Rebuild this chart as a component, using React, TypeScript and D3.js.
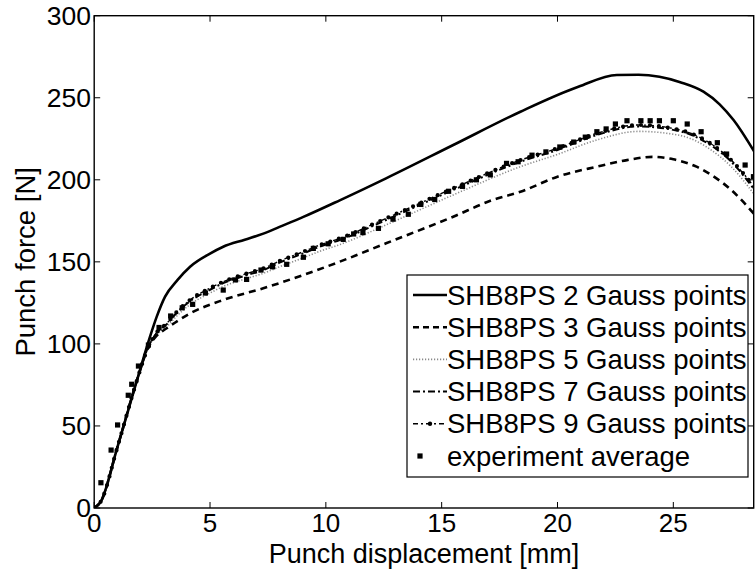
import React from "react";
import * as d3 from "d3";

type P = [number, number];

const xTicks = [0, 5, 10, 15, 20, 25];
const yTicks = [0, 50, 100, 150, 200, 250, 300];

const gp2X = [0, 0.28, 1.0, 1.85, 2.4, 2.7, 3.06, 3.6, 4.14, 5.0, 5.57, 6.5, 7.3, 8.0, 9.03, 10.6, 12.6, 15.5, 18.4, 20.9, 22.56, 23.5, 24.4, 25.3, 26.3, 27.0, 27.6, 28.5];
const gp2Y = [0, 3.8, 37, 78, 104, 116.6, 128.8, 139, 147, 155, 159.2, 163.5, 167.2, 171.3, 177.4, 187.5, 200.9, 221.2, 241.5, 256.7, 263.9, 264, 262.8, 259.5, 253.7, 246, 236.4, 217];

const gp3X = [0, 0.28, 1, 1.85, 2.34, 2.7, 3.13, 4.14, 5.57, 7.3, 9.03, 10.6, 12.6, 15.5, 17.2, 18.4, 20, 21.7, 23.0, 24.1, 25.0, 26.0, 26.8, 27.5, 28.5];
const gp3Y = [0, 3.8, 37, 78, 98, 105, 109.5, 118.6, 126.8, 133.9, 142, 150.1, 161.3, 177.5, 187.7, 192.7, 201.9, 208, 212, 214, 212.5, 208, 201.5, 193.8, 179];

const gp9X = [0, 0.28, 1.0, 1.85, 2.34, 2.7, 3.13, 3.6, 4.14, 5.0, 5.57, 6.5, 7.3, 8.0, 9.03, 9.75, 10.6, 12.6, 15.5, 18.4, 20, 21.7, 23.5, 25.3, 26.6, 27.5, 28.5];
const gp9Y = [0, 3.8, 37, 78, 98.3, 107, 112.5, 120, 126.8, 134, 137.9, 142.5, 146, 150.5, 156.2, 160.3, 164.3, 176.5, 194.8, 212, 219.2, 228.3, 233.4, 230.3, 222.2, 212, 195.5];

const gp7X = [0, 0.28, 1.0, 1.85, 2.34, 2.7, 3.13, 3.6, 4.14, 5.0, 5.57, 6.5, 7.3, 8.0, 9.03, 9.75, 10.6, 12.6, 15.5, 18.4, 20, 21.7, 23.5, 25.3, 26.6, 27.5, 28.5];
const gp7Y = [0, 3.8, 37, 78, 98.3, 106.5, 112, 119.5, 126, 133, 137, 141.5, 145, 149.5, 155.2, 159.3, 163.3, 175.5, 193.8, 211, 218.2, 227.3, 232.5, 229.5, 221.2, 211, 194];

const gp5X = [0, 0.28, 1.0, 1.85, 2.34, 2.7, 3.13, 3.6, 4.14, 5.0, 5.57, 6.5, 7.3, 8.0, 9.03, 9.75, 10.6, 12.6, 15.5, 18.4, 20, 21.7, 23.5, 25.3, 26.6, 27.5, 28.5];
const gp5Y = [0, 3.8, 37, 78, 98.3, 105.5, 110.5, 117.5, 124, 131, 135, 139.5, 143, 147, 152.5, 156.5, 160.5, 172.5, 190.8, 208, 215.5, 224.3, 229.5, 227, 218.5, 208, 191];

const expX = [0.29, 0.73, 1.01, 1.47, 1.62, 1.91, 2.34, 2.8, 3.3, 3.8, 4.25, 4.8, 5.57, 6.1, 6.58, 7.2, 7.7, 8.31, 9.03, 9.46, 10.1, 10.75, 11.2, 11.6, 12.27, 12.9, 13.56, 14.1, 14.7, 15.3, 15.9, 16.5, 17.1, 17.8, 18.3, 18.9, 19.5, 20.1, 20.7, 21.2, 21.7, 22.1, 22.5, 23.0, 23.6, 24.0, 24.4, 25.0, 25.6, 26.2, 26.9, 27.3, 28.1, 28.46];
const expY = [15.4, 35.3, 50.6, 68.7, 75.4, 86.5, 99.3, 110, 117, 122, 124.1, 131, 132.8, 139, 139.3, 145, 147, 148.5, 152.8, 158.2, 161, 163.7, 167, 167.8, 170.4, 176, 179, 185, 188, 193, 196, 200, 203, 210, 211, 215, 217, 220, 223, 226, 229.3, 231, 234, 236, 236, 236, 236, 236, 234, 229.3, 222.6, 215.7, 209, 201.9];

const legendLabels = [
  "SHB8PS 2 Gauss points",
  "SHB8PS 3 Gauss points",
  "SHB8PS 5 Gauss points",
  "SHB8PS 7 Gauss points",
  "SHB8PS 9 Gauss points",
  "experiment average",
];

const W = 755;
const H = 572;
const x = d3.scaleLinear().domain([0, 28.47]).range([94.2, 753.7]);
const y = d3.scaleLinear().domain([0, 300]).range([508, 15.7]);

const zip = (xs: number[], ys: number[]): P[] => xs.map((v, i) => [v, ys[i]]);

const line = d3
  .line<P>()
  .x((d) => x(d[0]))
  .y((d) => y(d[1]))
  .curve(d3.curveMonotoneX);

const FONT = "Liberation Sans, Arial, Helvetica, sans-serif";

export default function App() {
  const [x0, x1] = x.range();
  const [y0, y1] = y.range();
  const tickLen = 6;
  const p2 = line(zip(gp2X, gp2Y)) || "";
  const p3 = line(zip(gp3X, gp3Y)) || "";
  const p5 = line(zip(gp5X, gp5Y)) || "";
  const p7 = line(zip(gp7X, gp7Y)) || "";
  const p9 = line(zip(gp9X, gp9Y)) || "";

  const lg = { x: 407, y: 275, w: 341, h: 202 };
  const rowY = (i: number) => 295 + i * 32.2;
  const sx0 = 413;
  const sx1 = 447;

  return (
    <svg
      width={W}
      height={H}
      style={{ position: "absolute", left: 0, top: 0, background: "#fff" }}
      fontFamily={FONT}
    >
      <rect x={0} y={0} width={W} height={H} fill="#fff" />
      <defs>
        <clipPath id="plot">
          <rect x={x0} y={y1} width={x1 - x0} height={y0 - y1} />
        </clipPath>
      </defs>

      <g clipPath="url(#plot)" fill="none">
        <path d={p5} stroke="#8a8a8a" strokeWidth={1.6} strokeDasharray="1.2 1.8" />
        <path d={p3} stroke="#000" strokeWidth={2.6} strokeDasharray="7 5" />
        <path d={p7} stroke="#000" strokeWidth={2} strokeDasharray="7 3 2 3" />
        <path d={p9} stroke="#000" strokeWidth={1.4} strokeDasharray="5 3 2 3" />
        <path d={p9} stroke="#000" strokeWidth={4.2} strokeLinecap="round" strokeDasharray="0 9" />
        <path d={p2} stroke="#000" strokeWidth={2.6} />
        {expX.map((v, i) => (
          <rect key={i} x={x(v) - 2.6} y={y(expY[i]) - 2.6} width={5.2} height={5.2} fill="#000" />
        ))}
      </g>

      {/* axes box */}
      <rect x={x0} y={y1} width={x1 - x0} height={y0 - y1} fill="none" stroke="#000" strokeWidth={1.4} />
      {xTicks.map((t) => (
        <g key={"xt" + t}>
          <line x1={x(t)} x2={x(t)} y1={y0} y2={y0 - tickLen} stroke="#000" strokeWidth={1} />
          <line x1={x(t)} x2={x(t)} y1={y1} y2={y1 + tickLen} stroke="#000" strokeWidth={1} />
          <text x={x(t)} y={532} textAnchor="middle" fontSize={26}>
            {t}
          </text>
        </g>
      ))}
      {yTicks.map((t) => (
        <g key={"yt" + t}>
          <line x1={x0} x2={x0 + tickLen} y1={y(t)} y2={y(t)} stroke="#000" strokeWidth={1} />
          <line x1={x1} x2={x1 - tickLen} y1={y(t)} y2={y(t)} stroke="#000" strokeWidth={1} />
          <text x={91} y={y(t) + 9.3} textAnchor="end" fontSize={26.5}>
            {t}
          </text>
        </g>
      ))}

      <text x={(x0 + x1) / 2} y={563} textAnchor="middle" fontSize={27}>
        Punch displacement [mm]
      </text>
      <text
        transform={`translate(35, ${(y0 + y1) / 2}) rotate(-90)`}
        textAnchor="middle"
        fontSize={27.5}
      >
        Punch force [N]
      </text>

      {/* legend */}
      <rect x={lg.x} y={lg.y} width={lg.w} height={lg.h} fill="#fff" stroke="#000" strokeWidth={1.2} />
      <g fill="none">
        <line x1={sx0} x2={sx1} y1={rowY(0)} y2={rowY(0)} stroke="#000" strokeWidth={2.6} />
        <line x1={sx0} x2={sx1} y1={rowY(1)} y2={rowY(1)} stroke="#000" strokeWidth={2.6} strokeDasharray="6 4" />
        <line x1={sx0} x2={sx1} y1={rowY(2)} y2={rowY(2)} stroke="#8a8a8a" strokeWidth={1.6} strokeDasharray="1.2 1.8" />
        <line x1={sx0} x2={sx1} y1={rowY(3)} y2={rowY(3)} stroke="#000" strokeWidth={2} strokeDasharray="7 3 2 3" />
        <line x1={sx0} x2={sx1} y1={rowY(4)} y2={rowY(4)} stroke="#000" strokeWidth={1.4} strokeDasharray="5 3 2 3" />
        <circle cx={(sx0 + sx1) / 2} cy={rowY(4)} r={2.2} fill="#000" />
      </g>
      <rect x={420 - 2.6} y={rowY(5) - 2.6} width={5.2} height={5.2} fill="#000" />
      {legendLabels.map((l, i) => (
        <text key={l} x={447} y={rowY(i) + 9.6} fontSize={27.5}>
          {l}
        </text>
      ))}
    </svg>
  );
}
